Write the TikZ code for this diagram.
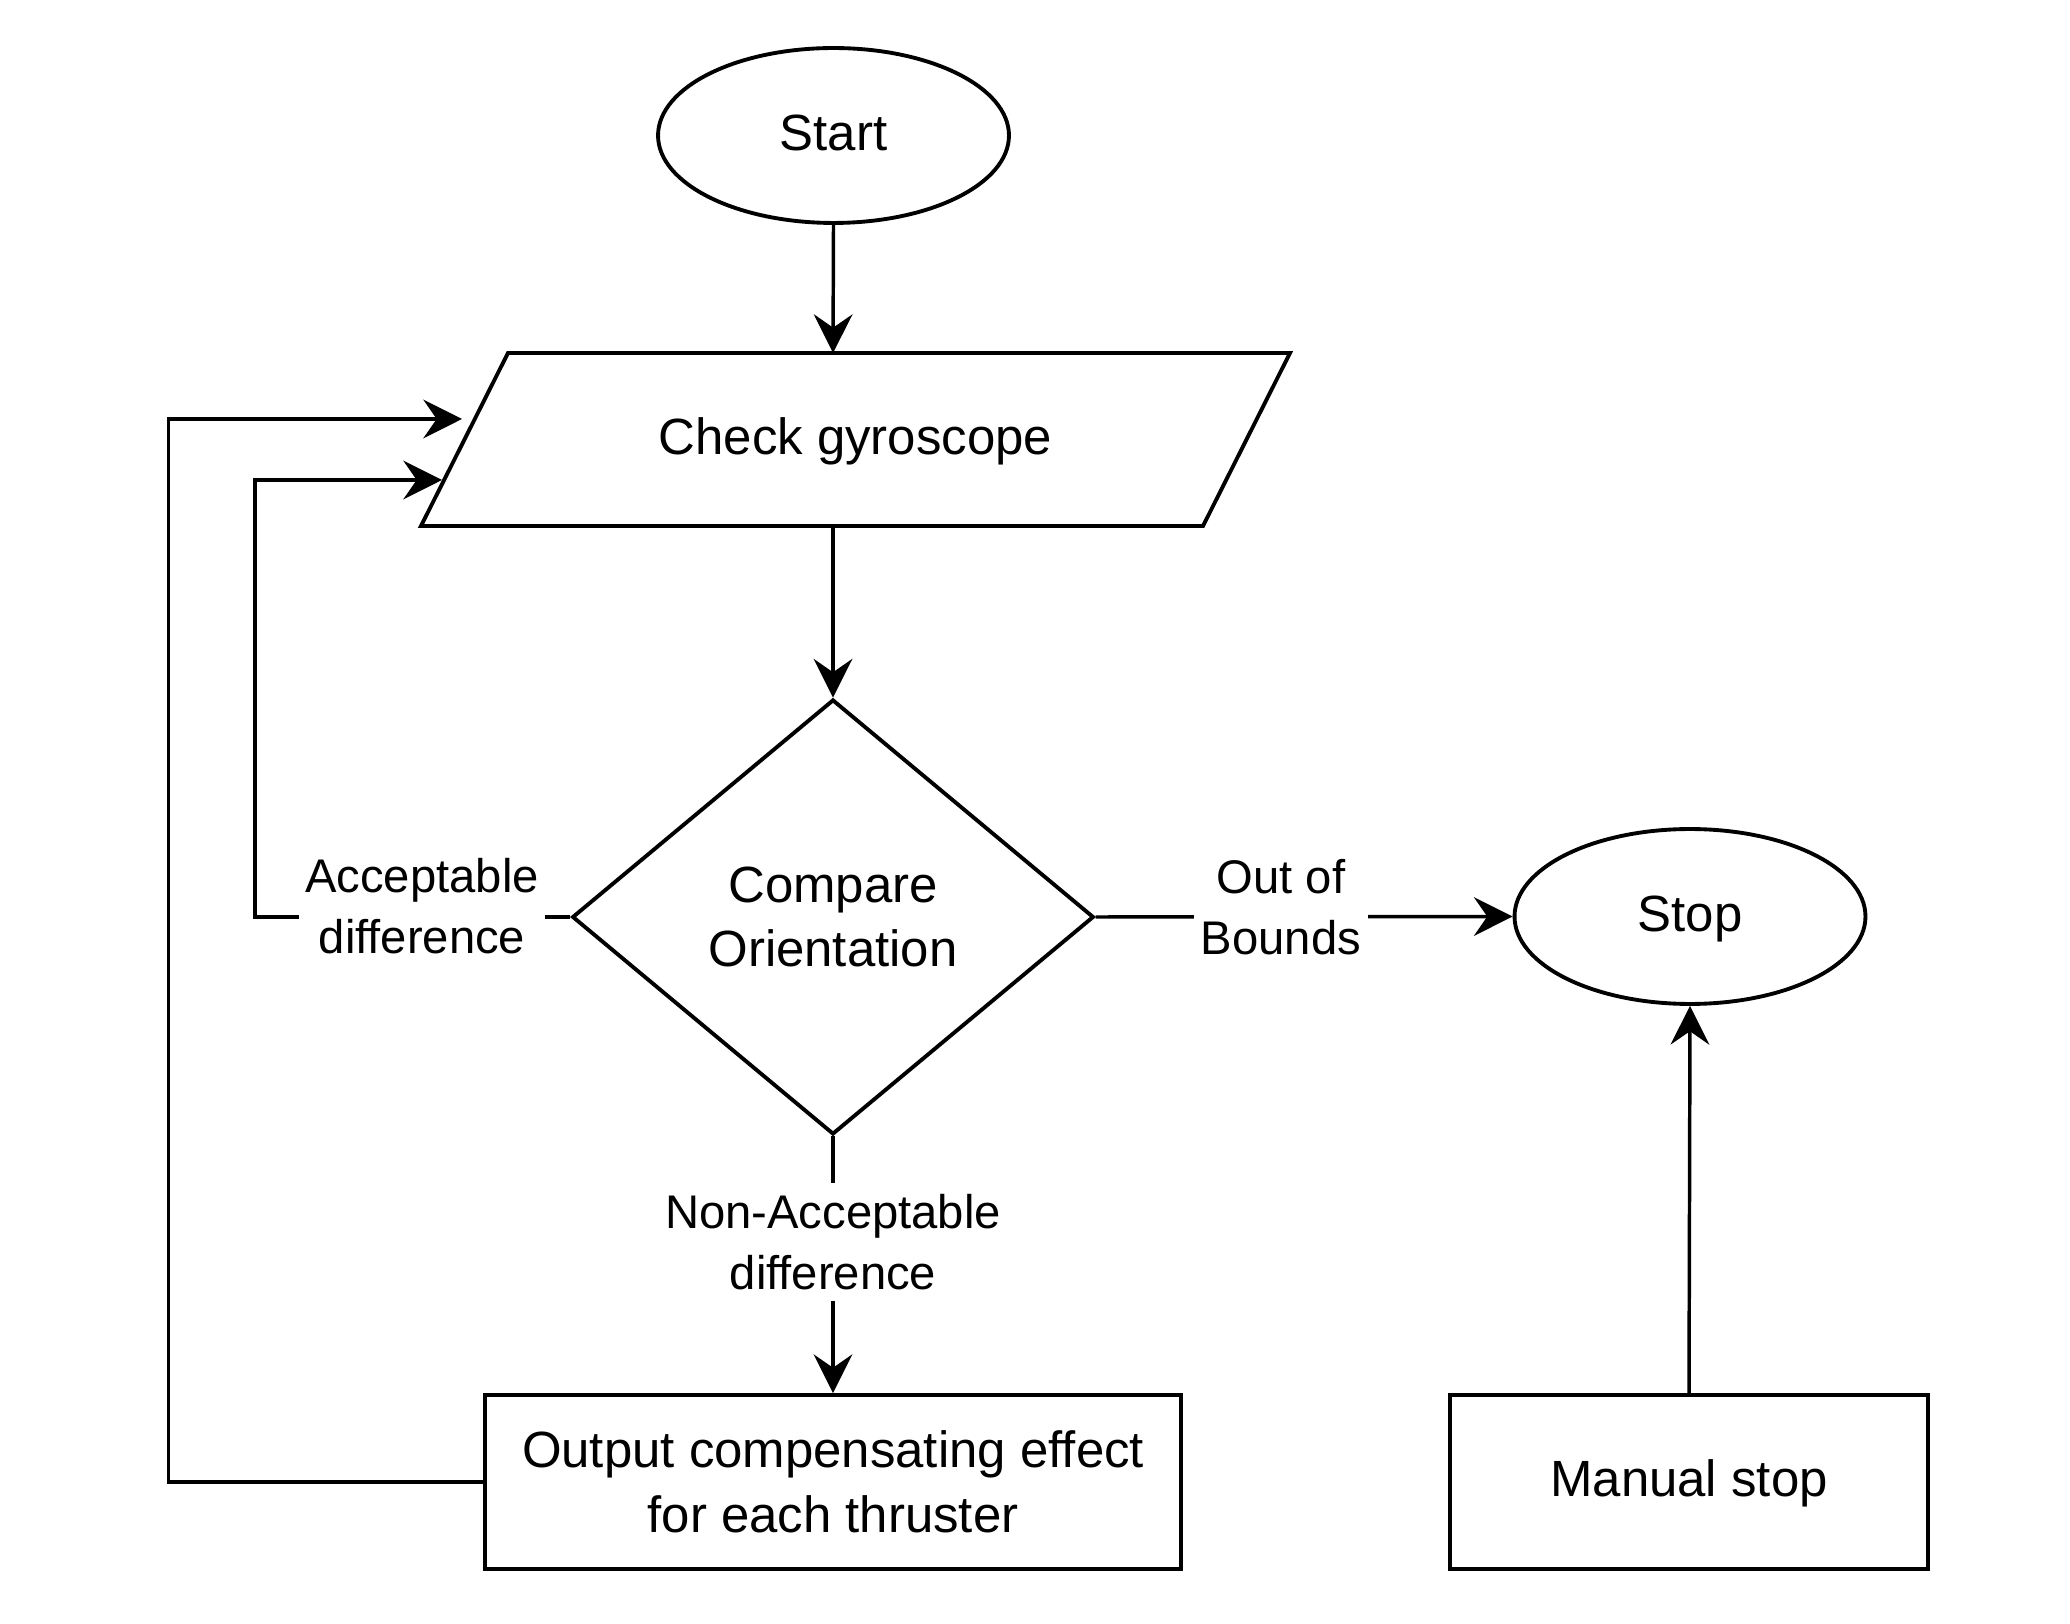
\documentclass[tikz,border=0pt]{standalone}
\usepackage{fontspec}
\setmainfont{Liberation Sans}
\usetikzlibrary{shapes.geometric,arrows.meta}
\begin{document}
\begin{tikzpicture}[x=0.375pt,y=-0.375pt,
  shapeline/.style={draw=black,line width=1.45pt,fill=white},
  nodefont/.style={font=\fontsize{19.1}{24.3}\selectfont},
  lblfont/.style={font=\fontsize{17.7}{22.9}\selectfont},
  oneline/.style={text height=14.9pt,text depth=3.8pt},
  term/.style={shapeline,ellipse,inner sep=0pt,minimum width=131.6pt,minimum height=65.6pt,nodefont,oneline},
  procbox/.style={shapeline,rectangle,inner sep=0pt,minimum height=65.25pt,nodefont,align=center},
  decision/.style={shapeline,diamond,inner sep=0pt,minimum width=195.6pt,minimum height=163.1pt,nodefont,align=center},
  lbl/.style={fill=white,inner xsep=2.5pt,inner ysep=4pt,lblfont,align=center},
  edge/.style={draw=black,line width=1.3pt,-{Stealth[length=14.5pt,width=14.5pt,inset=5pt]}}
]
\useasboundingbox (0,0) rectangle (2070,1624);
\fill[white] (0,0) rectangle (2070,1624);

% nodes
\node[term] (start) at (833.5,135.5) {Start};
\draw[shapeline] (508,353) -- (1290,353) -- (1203,526) -- (421,526) -- cycle;
\node[nodefont,oneline,inner sep=0pt] (check) at (855.5,439.5) {Check gyroscope};
\coordinate (chkTop) at (833,353);
\coordinate (chkBot) at (833,526);
\coordinate (chkIn1) at (462,419);
\coordinate (chkIn2) at (442,480);
\node[decision] (cmp) at (833,917) {Compare\\Orientation};
\node[term] (stop) at (1690,916.5) {Stop};
\node[procbox,minimum width=261pt] (out) at (833,1482) {Output compensating effect\\for each thruster};
\node[procbox,minimum width=179.25pt,oneline] (manual) at (1689,1482) {Manual stop};

% connectors
\draw[edge] (start.south) -- (chkTop);
\draw[edge] (chkBot) -- (cmp.north);
\draw[edge] (cmp.south) -- (out.north);
\draw[edge] (cmp.east) -- (stop.west);
\draw[edge] (manual.north) -- (stop.south);
\draw[edge] (cmp.west) -- ++(-315.5,0) |- (chkIn2);
\draw[edge] (out.west) -- ++(-314.7,0) |- (chkIn1);

% labels
\node[lbl] (acc) at (422,906) {Acceptable\\difference};
\node[lbl] (nonacc) at (833,1242) {Non-Acceptable\\difference};
\node[lbl] (oob) at (1281,907) {Out of\\Bounds};
\end{tikzpicture}
\end{document}
